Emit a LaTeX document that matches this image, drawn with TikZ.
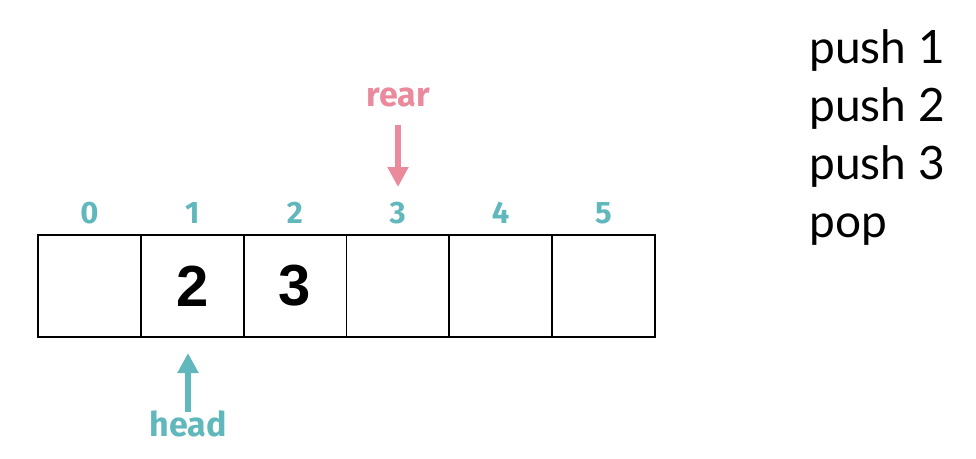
\documentclass[tikz,border=0pt]{standalone}
\usepackage{fontspec}
\setmainfont{Lato}
\newfontfamily\idxfont{Fira Sans}
\newfontfamily\cellfont{Liberation Sans}
\usetikzlibrary{arrows.meta,positioning}
\definecolor{qteal}{RGB}{96,184,189}
\definecolor{qpink}{RGB}{234,138,156}

\begin{document}
\begin{tikzpicture}[x=1pt, y=-1pt,
  cell/.style={draw, line width=1.8pt, minimum width=102.8pt, minimum height=102pt,
    inner sep=0pt, font=\cellfont\fontsize{58}{58}\selectfont\bfseries},
  idx/.style={text=qteal, font=\idxfont\fontsize{31}{31}\selectfont\bfseries},
  ptr/.style={font=\idxfont\fontsize{34}{34}\selectfont\bfseries},
  arr/.style={-{Triangle[length=20pt, width=20pt]}, line width=6.5pt},
  op/.style={anchor=base west, inner sep=0pt, font=\fontsize{46}{46}\selectfont}
]
\useasboundingbox (0,0) rectangle (976,458);

% array cells with their indices
\foreach \i/\v in {0/{}, 1/2, 2/3, 3/{}, 4/{}, 5/{}} {
  \node[cell] (c\i) at (89.4+\i*102.8, 286) {\v};
  \node[idx] (i\i) at (89.4+\i*102.8, 213) {\i};
}

% pointers
\node[ptr, text=qpink] (rear) at (398, 97) {rear};
\coordinate (rearfrom) at (398, 125);
\coordinate (reartip) at (398, 187);
\draw[arr, qpink] (rearfrom) -- (reartip);

\node[ptr, text=qteal] (head) at (188, 424) {head};
\coordinate (headfrom) at (188, 412);
\coordinate (headtip) at (188, 353);
\draw[arr, qteal] (headfrom) -- (headtip);

% operations
\node[op] (op1) at (809, 63) {push 1};
\node[op] (op2) at (809, 121) {push 2};
\node[op] (op3) at (809, 179) {push 3};
\node[op] (op4) at (809, 237) {pop};
\end{tikzpicture}
\end{document}
